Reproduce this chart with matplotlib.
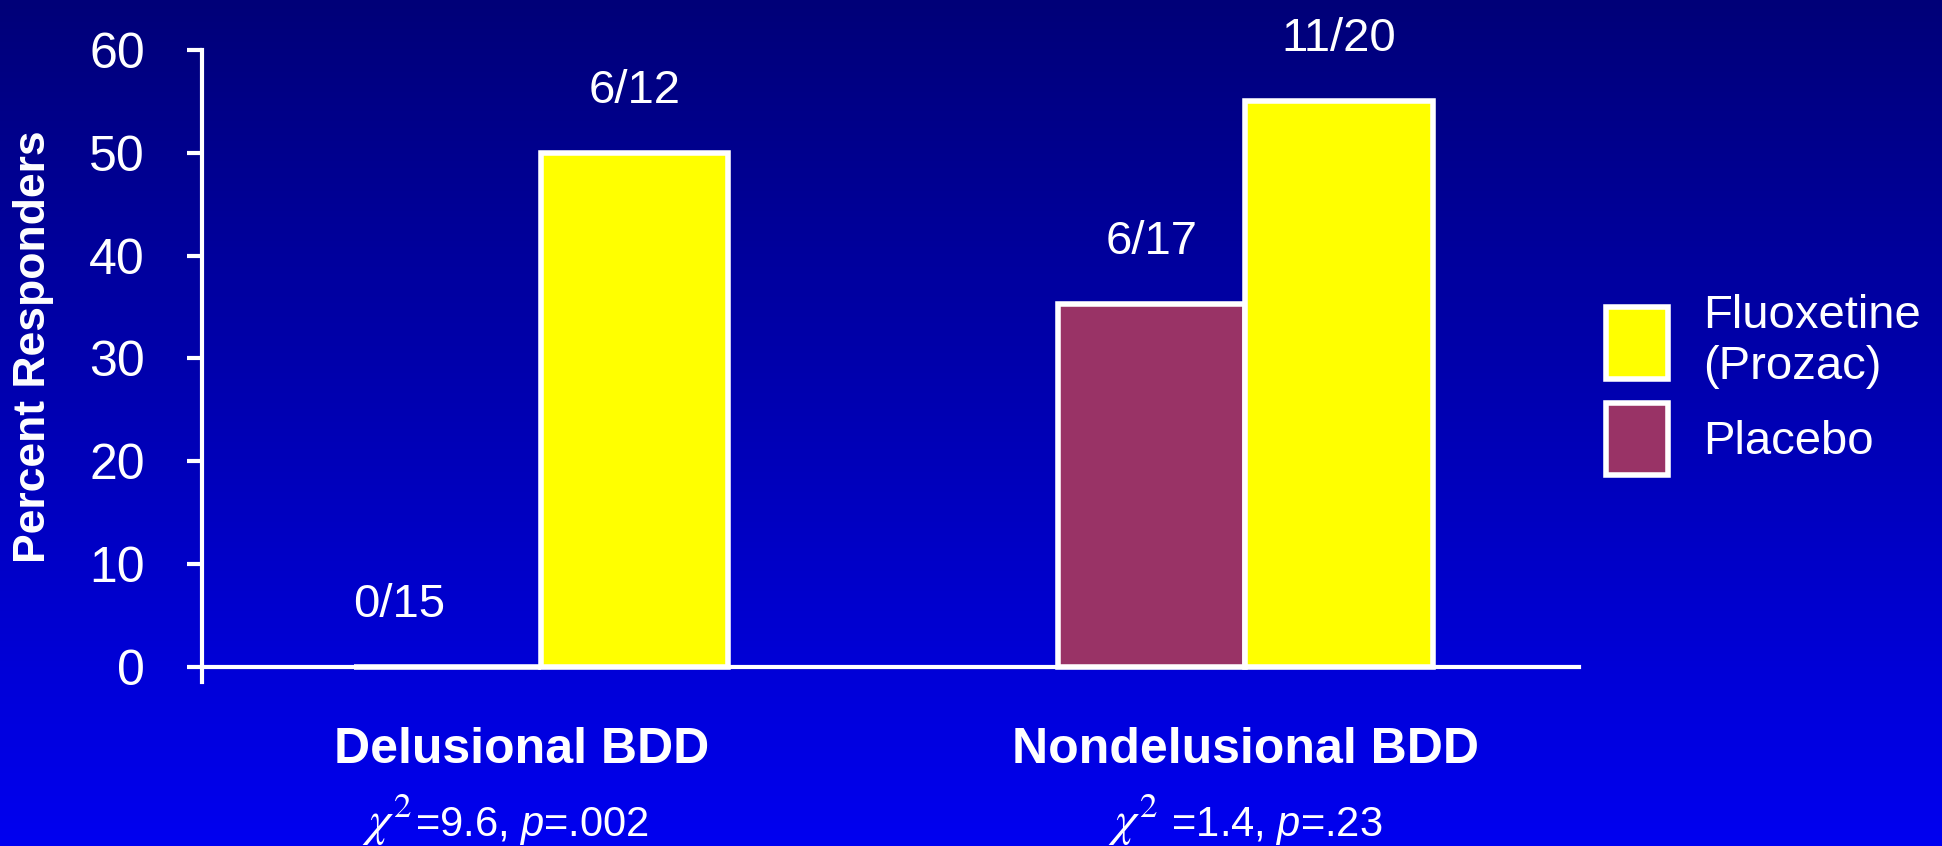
import matplotlib
matplotlib.use("Agg")
import matplotlib.pyplot as plt
import matplotlib.transforms as mtransforms
from matplotlib.offsetbox import TextArea, HPacker, AnnotationBbox
import numpy as np

plt.rcParams['font.family'] = 'Liberation Sans'
plt.rcParams['mathtext.fontset'] = 'custom'
plt.rcParams['mathtext.rm'] = 'Liberation Sans'
plt.rcParams['mathtext.it'] = 'Liberation Sans:italic'

# groups and responder counts (responders / n)
groups = ["Delusional BDD", "Nondelusional BDD"]
chi_text = [r"=9.6, $p$=.002", r" =1.4, $p$=.23"]
placebo_resp = [0, 6]
placebo_n = [15, 17]
fluox_resp = [6, 11]
fluox_n = [12, 20]
yticks = [0, 10, 20, 30, 40, 50, 60]

placebo_pct = [100 * r / n for r, n in zip(placebo_resp, placebo_n)]
fluox_pct = [100 * r / n for r, n in zip(fluox_resp, fluox_n)]

fig = plt.figure(figsize=(19.42, 8.46), dpi=100)

# dark-to-bright blue background
bg = fig.add_axes([0, 0, 1, 1], zorder=-10)
grad = np.linspace(0, 1, 256).reshape(-1, 1)
cmap = matplotlib.colors.LinearSegmentedColormap.from_list("bg", ["#000078", "#0000F0"])
bg.imshow(grad, aspect='auto', cmap=cmap, extent=[0, 1, 1, 0])
bg.axis('off')

ax = fig.add_axes([0.1040, 0.1939, 0.7091, 0.7470])
ax.patch.set_alpha(0)

x = np.arange(len(groups))
w = 0.266
b_pl = ax.bar(x - w / 2, placebo_pct, w, color='#993366', edgecolor='white', linewidth=4, zorder=3)
b_fl = ax.bar(x + w / 2, fluox_pct, w, color='#FFFF00', edgecolor='white', linewidth=4, zorder=3)

# responder fractions above the bars
label_dx = [[-35, 0], [0, 0]]
for j, (bars, resp, n) in enumerate([(b_pl, placebo_resp, placebo_n), (b_fl, fluox_resp, fluox_n)]):
    for i, rect in enumerate(bars):
        ax.annotate(f"{resp[i]}/{n[i]}",
                    (rect.get_x() + rect.get_width() / 2, rect.get_height()),
                    xytext=(label_dx[j][i], 36), textcoords='offset points',
                    ha='center', va='baseline', color='white', fontsize=34)

ax.set_xlim(-0.4815, 1.474)
ax.set_ylim(-1.46, 60)
ax.set_yticks(yticks)
ax.set_xticks([])
ax.spines['top'].set_visible(False)
ax.spines['right'].set_visible(False)
ax.spines['bottom'].set_position(('data', 0))
for s in ['left', 'bottom']:
    ax.spines[s].set_color('white')
    ax.spines[s].set_linewidth(3)
ax.tick_params(axis='y', colors='white', labelsize=36, length=11, width=3, pad=30)

ax.set_ylabel("Percent Responders", fontsize=32, fontweight='bold', color='white', va='center')
ax.yaxis.set_label_coords(-0.1225, 0.53)

# group names and chi-square results under the axis
trans = mtransforms.blended_transform_factory(ax.transData, ax.transAxes)
name_dx = [-0.027, 0]
stat_dx = [-0.051, 0]
for i, g in enumerate(groups):
    ax.text(x[i] + name_dx[i], -0.128, g, transform=trans, ha='center', va='baseline',
            color='white', fontsize=36, fontweight='bold')
    chi = TextArea(r"$\chi^{\mathrm{2}}$",
                   textprops=dict(color='white', fontsize=36, math_fontfamily='stix'))
    rest = TextArea(chi_text[i], textprops=dict(color='white', fontsize=30))
    box = HPacker(children=[chi, rest], align='baseline', pad=0, sep=2)
    ab = AnnotationBbox(box, (x[i] + stat_dx[i], -0.262), xycoords=trans,
                        box_alignment=(0.5, 0.0), frameon=False, pad=0)
    ax.add_artist(ab)

fig.legend([b_fl, b_pl], ["Fluoxetine\n(Prozac)", "Placebo"],
           loc='upper left', bbox_to_anchor=(1606 / 1942, 1 - 294 / 846),
           frameon=False, fontsize=34, labelcolor='white',
           handlelength=1.32, handleheight=1.97, handletextpad=0.73,
           labelspacing=0.30, borderpad=0, borderaxespad=0)

fig.savefig("out.png", dpi=100)
